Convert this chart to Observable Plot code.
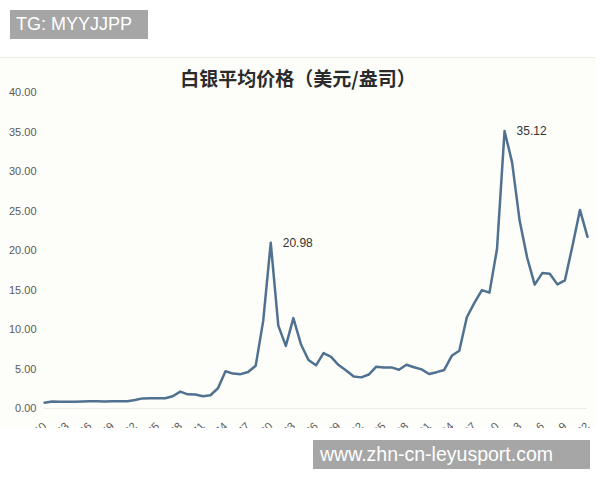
<!DOCTYPE html>
<html><head><meta charset="utf-8">
<script src="https://cdn.jsdelivr.net/npm/d3@7"></script>
<script src="https://cdn.jsdelivr.net/npm/@observablehq/plot@0.6"></script>
<style>
body{margin:0;width:600px;height:480px;background:#fff;position:relative;overflow:hidden;font-family:"Liberation Sans",Arial,sans-serif}
#frame{position:absolute;left:0;top:57px;width:596px;height:370px;overflow:hidden;background:#fdfdf9;border-top:1px solid #f1ece2}
#title{position:absolute;left:0;top:66px;width:596px;text-align:center;font-family:"Noto Sans CJK SC",sans-serif;font-weight:700;font-size:19px;line-height:24px;color:#2b2b2b}
.wm{position:absolute;background:#a6a6a6;color:#fff;height:29px;line-height:29px;box-sizing:border-box;font-family:"Liberation Sans",Arial,sans-serif;white-space:nowrap}
#wm1{left:10px;top:10px;width:138px;padding-left:6px;font-size:18px}
#wm2{left:313px;top:440px;width:277px;padding-left:7px;font-size:19.5px}
</style></head>
<body>
<div id="frame"></div>
<div id="title">白银平均价格（美元/盎司）</div>
<div class="wm" id="wm1">TG: MYYJJPP</div>
<div class="wm" id="wm2">www.zhn-cn-leyusport.com</div>
<script>
const years = [1950,1951,1952,1953,1954,1955,1956,1957,1958,1959,
  1960,1961,1962,1963,1964,1965,1966,1967,1968,1969,
  1970,1971,1972,1973,1974,1975,1976,1977,1978,1979,
  1980,1981,1982,1983,1984,1985,1986,1987,1988,1989,
  1990,1991,1992,1993,1994,1995,1996,1997,1998,1999,
  2000,2001,2002,2003,2004,2005,2006,2007,2008,2009,
  2010,2011,2012,2013,2014,2015,2016,2017,2018,2019,
  2020,2021,2022];
const prices = [0.74,0.89,0.85,0.85,0.85,0.89,0.91,0.91,0.89,0.91,
  0.91,0.92,1.08,1.28,1.29,1.29,1.29,1.55,2.14,1.79,
  1.77,1.55,1.68,2.56,4.71,4.42,4.35,4.62,5.40,11.09,
  20.98,10.49,7.92,11.44,8.14,6.14,5.47,7.01,6.53,5.50,
  4.82,4.04,3.94,4.30,5.29,5.20,5.20,4.90,5.54,5.22,
  4.95,4.37,4.60,4.88,6.67,7.32,11.55,13.38,14.99,14.67,
  20.19,35.12,31.15,23.79,19.08,15.68,17.14,17.05,15.71,16.21,
  20.55,25.14,21.73];
const xTicks = [1950,1953,1956,1959,1962,1965,1968,1971,1974,1977,1980,1983,1986,1989,1992,1995,1998,2001,2004,2007,2010,2013,2016,2019,2022];
const yTicks = [0,5,10,15,20,25,30,35,40];
const labeledYears = [1980, 2011];

const data = years.map((year, i) => ({year, price: prices[i]}));
const peaks = data.filter(d => labeledYears.includes(d.year));

const chart = Plot.plot({
  width: 596, height: 400,
  marginLeft: 44, marginRight: 9, marginTop: 34, marginBottom: 50,
  style: {background: "transparent", fontSize: "11px", color: "#5a5a5a", fontFamily: "Liberation Sans, Arial, sans-serif", overflow: "visible"},
  x: {domain: [1950, 2022], ticks: xTicks, tickFormat: d => String(d), tickRotate: -45, tickSize: 0, tickPadding: 16, label: null},
  y: {domain: [0, 40], ticks: yTicks, tickFormat: d3.format(".2f"), tickSize: 0, tickPadding: 8, label: null},
  marks: [
    Plot.ruleY([0], {stroke: "#ebebe6"}),
    Plot.line(data, {x: "year", y: "price", stroke: "#50718f", strokeWidth: 2.5, strokeLinejoin: "round"}),
    Plot.text(peaks, {x: "year", y: "price", text: d => d.price.toFixed(2), dx: 12, textAnchor: "start", fontSize: 12, fill: "#333"})
  ]
});
document.getElementById("frame").appendChild(chart);
</script>
</body></html>
